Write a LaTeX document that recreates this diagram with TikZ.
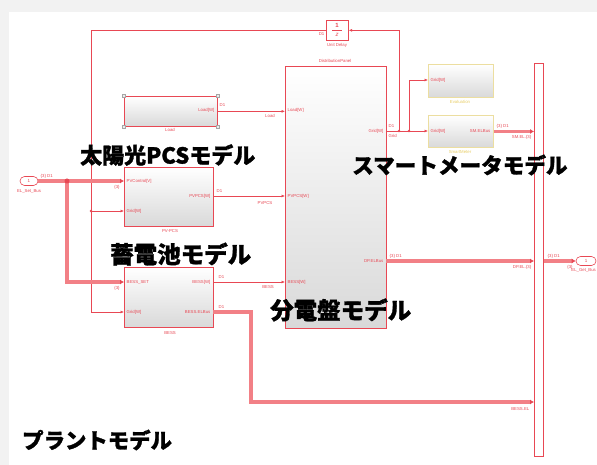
\documentclass[tikz,border=0pt]{standalone}
\usepackage{fontspec}
\setmainfont{Liberation Sans}
\newfontfamily\cjk{Noto Sans CJK JP}[BoldFeatures={FakeBold=1.2}]
\usetikzlibrary{arrows.meta,calc,shapes.misc}
\definecolor{sred}{RGB}{232,72,84}
\definecolor{sbus}{RGB}{242,128,134}
\definecolor{sylw}{RGB}{236,222,160}
\definecolor{sylwt}{RGB}{232,205,100}
\begin{document}
\begin{tikzpicture}[x=1pt,y=-1pt,
  blk/.style={draw=sred,line width=0.7pt,top color=white,bottom color=gray!30,inner sep=0pt,anchor=north west},
  yblk/.style={draw=sylw,line width=0.9pt,top color=white,bottom color=gray!30,inner sep=0pt,anchor=north west},
  sig/.style={draw=sred,line width=0.6pt,-{Latex[length=3.5pt,width=3pt]}},
  thin/.style={draw=sred,line width=0.6pt},
  bus/.style={draw=sbus,line width=3.2pt},
  busar/.style={draw=sbus,line width=3.2pt,-{Latex[length=4pt,width=5pt,color=sred]}},
  tiny/.style={font=\fontsize{4.3}{5}\selectfont,text=sred,inner sep=0.5pt},
  ytiny/.style={font=\fontsize{4.3}{5}\selectfont,text=sylwt,inner sep=0.5pt},
  big/.style={font=\cjk\bfseries\fontsize{#1}{#1}\selectfont,inner sep=0pt,text=black},
  dot/.style={circle,fill=sred,inner sep=0pt,minimum size=2.6pt},
  handle/.style={draw=gray!70,fill=gray!15,line width=0.4pt,inner sep=0pt,minimum size=3pt}
]
\useasboundingbox (0,0) rectangle (597,465);
\fill[gray!10] (0,0) rectangle (597,465);
\fill[white] (9,12) rectangle (597,465);

% blocks
\node[blk,minimum width=93pt,minimum height=30pt] (load) at (124,96) {};
\node[blk,minimum width=89pt,minimum height=59pt] (pv) at (124,167) {};
\node[blk,minimum width=89pt,minimum height=60pt] (bess) at (124,267) {};
\node[blk,minimum width=101pt,minimum height=262pt] (dp) at (285,66) {};
\node[blk,top color=white,bottom color=white,minimum width=22pt,minimum height=20pt] (ud) at (326,20) {};
\node[yblk,minimum width=65pt,minimum height=33pt] (ev) at (428,64) {};
\node[yblk,minimum width=65pt,minimum height=32pt] (sm) at (428,115) {};
\node[draw=sred,fill=white,line width=0.7pt,inner sep=0pt,anchor=north west,minimum width=9pt,minimum height=393pt] (bb) at (534,63) {};
\node[draw=sred,fill=white,line width=0.6pt,rounded rectangle,inner sep=0pt,minimum width=18pt,minimum height=9pt,font=\fontsize{4.5}{5}\selectfont,text=sred] (setb) at (29,181) {1};
\node[draw=sred,fill=white,line width=0.6pt,rounded rectangle,inner sep=0pt,minimum width=20pt,minimum height=9pt,font=\fontsize{4.5}{5}\selectfont,text=sred] (getb) at (586,261) {1};

% load handles
\foreach \p in {north west,north east,south west,south east}
  \node[handle] at (load.\p) {};

% ports
\coordinate (pvi1) at (124,181);
\coordinate (pvi2) at (124,211);
\coordinate (pvo) at (213,196);
\coordinate (bei1) at (124,282);
\coordinate (bei2) at (124,312);
\coordinate (beo1) at (213,282);
\coordinate (beo2) at (213,312);
\coordinate (dpg) at (386,131);
\coordinate (dpe) at (386,261);
\coordinate (j1) at (67,181);
\coordinate (j2) at (91,211);
\coordinate (j3) at (399,131);
\coordinate (j4) at (409,131);
\coordinate (fb) at (91,312);
\coordinate (be) at (251,402);
\coordinate (evi) at (428,80);
\coordinate (smi) at (428,131);

% connectors
\draw[sig] (load.east) -- (dp.west |- load.east);
\draw[sig] (pvo) -- (dp.west |- pvo);
\draw[sig] (beo1) -- (dp.west |- beo1);
\draw[thin] (dpg) -- (j4);
\draw[sig] (j4) -- (smi);
\draw[sig] (j4) |- (evi);
\draw[sig] (j3) |- (ud.east);
\draw[sig] (ud.west) -| (fb) -- (bei2);
\draw[sig] (j2) -- (pvi2);
\draw[bus] (setb.east) -- (j1);
\draw[busar] (j1) -- (pvi1);
\draw[busar] (j1) |- (bei1);
\draw[busar] (beo2) -| (be) -- (bb.west |- be);
\draw[busar] (dpe) -- (bb.west |- dpe);
\draw[busar] (sm.east) -- (bb.west |- sm.east);
\draw[busar] (bb.east |- dpe) -- (getb.west);
\node[dot] at (j2) {};
\node[dot] at (j3) {};
\node[dot] at (j4) {};
\node[dot,minimum size=5pt] at (j1) {};

% unit delay
\node[text=sred,font=\fontsize{6}{6}\selectfont\bfseries] at (337,25) {1};
\draw[sred,line width=0.4pt] (332,30) -- (342,30);
\node[text=sred,font=\fontsize{6}{6}\selectfont\itshape] at (337,35) {z};
\node[tiny] at (337,45) {Unit Delay};
\node[tiny,anchor=east] at (325,34) {D1};

% load labels
\node[tiny,anchor=east] at (215,110) {Load[W]};
\node[tiny] at (170,130) {Load};
\node[tiny,anchor=west] at (219,105) {D1};
\node[tiny] at (270,116) {Load};

% DP labels
\node[tiny] at (335,61) {DistributionPanel};
\node[tiny,anchor=west] at (287,110) {Load[W]};
\node[tiny,anchor=west] at (287,196) {PVPCS[W]};
\node[tiny,anchor=west] at (287,282) {BESS[W]};
\node[tiny,anchor=east] at (384,131) {Grid[W]};
\node[tiny,anchor=east] at (384,261) {DP.ELBus};
\node[tiny,anchor=west] at (388,126) {D1};
\node[tiny,anchor=west] at (388,136) {Grid};
\node[tiny,anchor=west] at (389,256) {\{3\} D1};
\node[tiny,anchor=east] at (532,267) {DP.EL.\{3\}};

% evaluation / smart meter
\node[tiny,anchor=west] at (430,80) {Grid[W]};
\node[ytiny] at (460,102) {Evaluation};
\node[tiny,anchor=west] at (430,131) {Grid[W]};
\node[tiny,anchor=east] at (491,131) {SM.ELBus};
\node[ytiny] at (460,152) {SmartMeter};
\node[tiny,anchor=west] at (496,126) {\{3\} D1};
\node[tiny,anchor=east] at (532,137) {SM.EL.\{3\}};

% outport
\node[tiny,anchor=west] at (547,256) {\{3\} D1};
\node[tiny] at (570,267) {\{3\}};
\node[tiny,anchor=east] at (596.5,270) {EL\_Get\_Bus};

% inport
\node[tiny,anchor=west] at (40,176) {\{3\} D1};
\node[tiny] at (29,191) {EL\_Set\_Bus};

% PV-PCS labels
\node[tiny,anchor=west] at (126,181) {PVControl[V]};
\node[tiny,anchor=west] at (126,211) {Grid[W]};
\node[tiny,anchor=east] at (211,196) {PVPCS[W]};
\node[tiny] at (170,231) {PV-PCS};
\node[tiny] at (117,187) {\{3\}};
\node[tiny,anchor=west] at (216,191) {D1};
\node[tiny] at (265,203) {PVPCS};

% BESS labels
\node[tiny,anchor=west] at (126,282) {BESS\_SET};
\node[tiny,anchor=west] at (126,312) {Grid[W]};
\node[tiny,anchor=east] at (211,282) {BESS[W]};
\node[tiny,anchor=east] at (211,312) {BESS.ELBus};
\node[tiny] at (170,333) {BESS};
\node[tiny] at (117,288) {\{3\}};
\node[tiny,anchor=west] at (218,277) {D1};
\node[tiny,anchor=west] at (218,307) {D1};
\node[tiny] at (268,287) {BESS};
\node[tiny,anchor=east] at (530,409) {BESS.EL};

% big labels
\node[big=22,anchor=west] (t1) at (80,155) {太陽光PCSモデル};
\node[big=23.5,anchor=west] (t2) at (110,254) {蓄電池モデル};
\node[big=23.5,anchor=west] (t3) at (270,310) {分電盤モデル};
\node[big=21.6,anchor=west] (t4) at (352,165) {スマートメータモデル};
\node[big=21.4,anchor=west] (t5) at (22,440) {プラントモデル};
\end{tikzpicture}
\end{document}
